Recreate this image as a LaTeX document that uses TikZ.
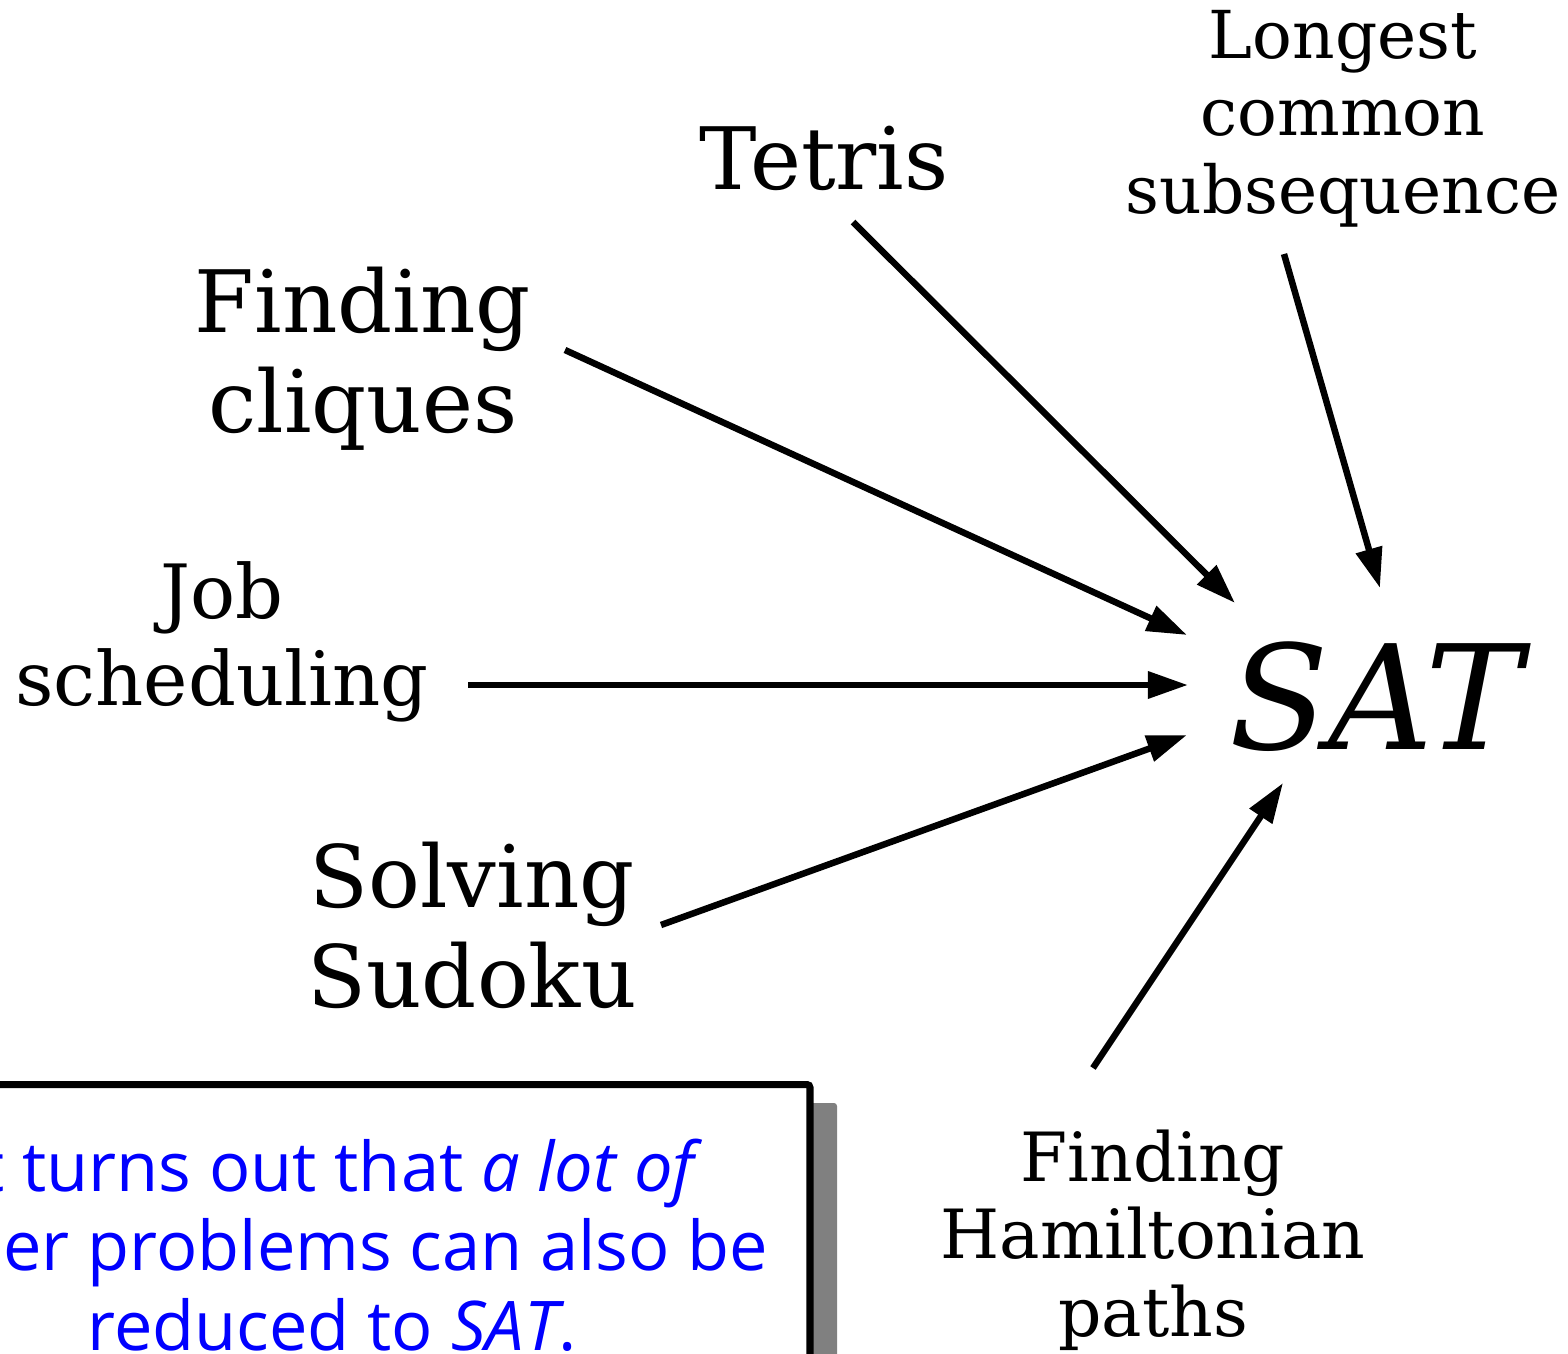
\documentclass[tikz,border=0pt]{standalone}
\usepackage{fontspec}
\setmainfont{DejaVu Serif}
\newfontfamily\notefont{Open Sans}
\usetikzlibrary{arrows.meta}
\definecolor{shadowgray}{HTML}{808080}
\definecolor{noteblue}{HTML}{0000FF}
\tikzset{
  lbl/.style={inner sep=0pt, align=center, anchor=base},
  big/.style={font=\fontsize{24.5pt}{28.3pt}\selectfont},
  mid/.style={font=\fontsize{21.3pt}{24.5pt}\selectfont},
  small/.style={font=\fontsize{18.8pt}{21.9pt}\selectfont},
  smallb/.style={font=\fontsize{19.3pt}{21.9pt}\selectfont},
  red/.style={line width=0.065cm, -{Triangle[length=0.4cm,width=0.26cm]}},
}
\begin{document}
\begin{tikzpicture}[x=0.01cm,y=-0.01cm]
\path[use as bounding box, clip] (0,0) rectangle (1568,1354);
% labels (anchored at the baseline of their last line)
\node[lbl,big] (tetris) at (824,189) {Tetris};
\node[lbl,small] (lcs) at (1343,213) {Longest\\common\\subsequence};
\node[lbl,big] (cliques) at (363,432) {Finding\\cliques};
\node[lbl,mid] (job) at (222,705) {Job\\scheduling};
\node[lbl,big] (sudoku) at (472,1007) {Solving\\Sudoku};
\node[lbl,smallb] (ham) at (1153,1336) {Finding\\Hamiltonian\\paths};
\node[lbl,font=\fontsize{41.3pt}{48pt}\selectfont\itshape] (sat) at (1376,749) {SAT};
% connector ends
\coordinate (tetrisS) at (853,222);   \coordinate (tetrisE) at (1235,603);
\coordinate (lcsS) at (1284,254);     \coordinate (lcsE) at (1380,588);
\coordinate (cliquesS) at (565,350);  \coordinate (cliquesE) at (1187,635);
\coordinate (jobS) at (468,685);      \coordinate (jobE) at (1188,685);
\coordinate (sudokuS) at (661,925);   \coordinate (sudokuE) at (1187,735);
\coordinate (hamS) at (1093,1068);    \coordinate (hamE) at (1283,783);
\draw[red] (tetrisS) -- (tetrisE);
\draw[red] (lcsS) -- (lcsE);
\draw[red] (cliquesS) -- (cliquesE);
\draw[red] (jobS) -- (jobE);
\draw[red] (sudokuS) -- (sudokuE);
\draw[red] (hamS) -- (hamE);
% note box
\fill[shadowgray, rounded corners=0.03cm] (-180,1103) rectangle (837,1500);
\draw[line width=0.07cm, fill=white, rounded corners=0.03cm] (-200,1084.5) rectangle (810,1500);
\node[inner sep=0pt, align=center, anchor=base, text=noteblue,
  font=\notefont\fontsize{19.5pt}{22.5pt}\selectfont] (note) at (332,1350)
  {It turns out that \textit{a lot of}\\other problems can also be\\reduced to \textit{SAT}.};
\end{tikzpicture}
\end{document}
